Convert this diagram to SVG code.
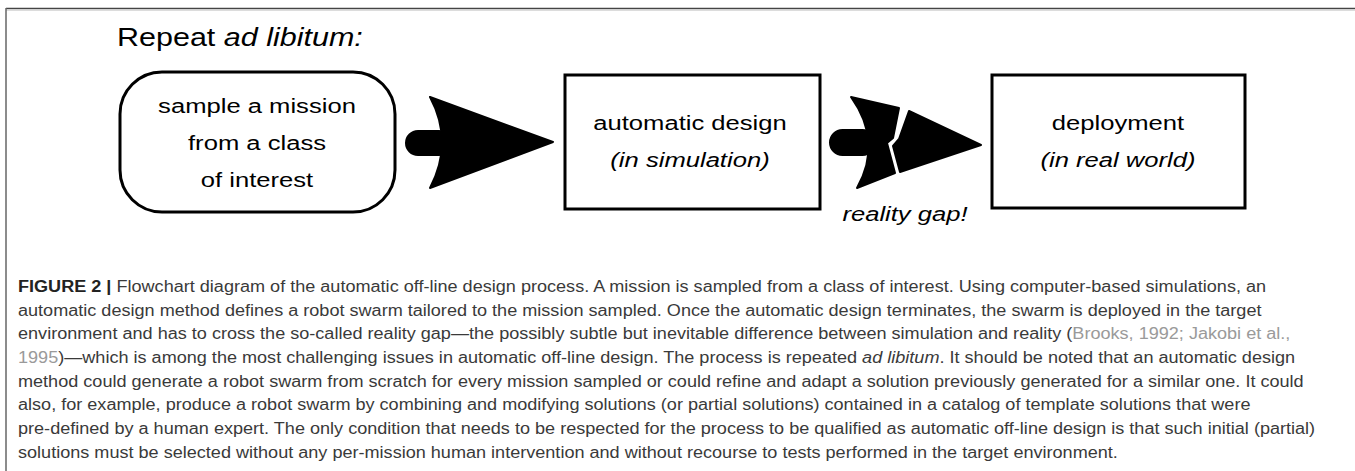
<svg xmlns="http://www.w3.org/2000/svg" width="1355" height="471" viewBox="0 0 1355 471">
<style>
.box{fill:#fff;stroke:#000;stroke-width:3}
.lbl{font-family:"Liberation Sans",Arial,Helvetica,sans-serif;font-size:21px;fill:#000;text-anchor:middle}
.ttl{font-family:"Liberation Sans",Arial,Helvetica,sans-serif;font-size:25px;fill:#000}
.it{font-style:italic}
.arrow{fill:#000;stroke:#000;stroke-width:2;stroke-linejoin:round}
.cap{font-family:"Liberation Sans",Arial,Helvetica,sans-serif;font-size:16px;fill:#3a3a3a}
.b{font-weight:bold;fill:#222}
.ref{fill:#9a9a9a}
</style>
<rect width="1355" height="471" fill="#fff"/>
<g id="frame">
<line x1="6" y1="8.5" x2="1355" y2="8.5" stroke="#444" stroke-width="1.5"/>
<line x1="6" y1="10.3" x2="1355" y2="10.3" stroke="#d4d4d4" stroke-width="1"/>
<line x1="6" y1="8" x2="6" y2="471" stroke="#666" stroke-width="1.5"/>
</g>
<g id="title">
<text class="ttl" transform="translate(117,46) scale(1.22,1)" x="0" y="0">Repeat <tspan class="it">ad libitum:</tspan></text>
</g>
<g id="node-sample">
<rect class="box" x="120" y="72" width="275" height="140" rx="42" ry="42"/>
<text class="lbl" transform="translate(257,0) scale(1.22,1)"><tspan x="0" y="113">sample a mission</tspan><tspan x="0" y="150">from a class</tspan><tspan x="0" y="187">of interest</tspan></text>
</g>
<g id="node-design">
<rect class="box" x="565" y="75" width="255" height="134"/>
<text class="lbl" transform="translate(690,0) scale(1.22,1)"><tspan x="0" y="130">automatic design</tspan><tspan class="it" x="0" y="167">(in simulation)</tspan></text>
</g>
<g id="node-deploy">
<rect class="box" x="992" y="75" width="253" height="133"/>
<text class="lbl" transform="translate(1118,0) scale(1.22,1)"><tspan x="0" y="130">deployment</tspan><tspan class="it" x="0" y="167">(in real world)</tspan></text>
</g>
<g id="connectors">
<g id="arrow-design">
<rect class="arrow" x="406" y="131" width="45" height="24" rx="12" ry="12"/>
<path class="arrow" d="M430,97 L553,142 L430,188 Q454,142 430,97 Z"/>
</g>
<g id="arrow-deploy">
<rect class="arrow" x="830" y="130" width="45" height="25" rx="12.5" ry="12.5"/>
<path class="arrow" d="M851,97 L899,108 L893,138 L887,143 L895,173 L857,188 Q883,142 851,97 Z"/>
<path class="arrow" d="M909,111 L981,145 L900,172 L893,146 L899,139 Z"/>
</g>
<text class="lbl it" transform="translate(905,221) scale(1.22,1)" x="0" y="0">reality gap!</text>
</g>
<g id="caption" transform="translate(18,0) scale(1.13,1)">
<text class="cap" x="0" y="292"><tspan class="b">FIGURE 2 | </tspan>Flowchart diagram of the automatic off-line design process. A mission is sampled from a class of interest. Using computer-based simulations, an</text>
<text class="cap" x="0" y="315.7">automatic design method defines a robot swarm tailored to the mission sampled. Once the automatic design terminates, the swarm is deployed in the target</text>
<text class="cap" x="0" y="339.4">environment and has to cross the so-called reality gap—the possibly subtle but inevitable difference between simulation and reality (<tspan class="ref">Brooks, 1992; Jakobi et al.,</tspan></text>
<text class="cap" x="0" y="363.1"><tspan class="ref">1995</tspan>)—which is among the most challenging issues in automatic off-line design. The process is repeated <tspan class="it">ad libitum</tspan>. It should be noted that an automatic design</text>
<text class="cap" x="0" y="386.8">method could generate a robot swarm from scratch for every mission sampled or could refine and adapt a solution previously generated for a similar one. It could</text>
<text class="cap" x="0" y="410.5">also, for example, produce a robot swarm by combining and modifying solutions (or partial solutions) contained in a catalog of template solutions that were</text>
<text class="cap" x="0" y="434.2">pre-defined by a human expert. The only condition that needs to be respected for the process to be qualified as automatic off-line design is that such initial (partial)</text>
<text class="cap" x="0" y="457.9">solutions must be selected without any per-mission human intervention and without recourse to tests performed in the target environment.</text>
</g>
</svg>
